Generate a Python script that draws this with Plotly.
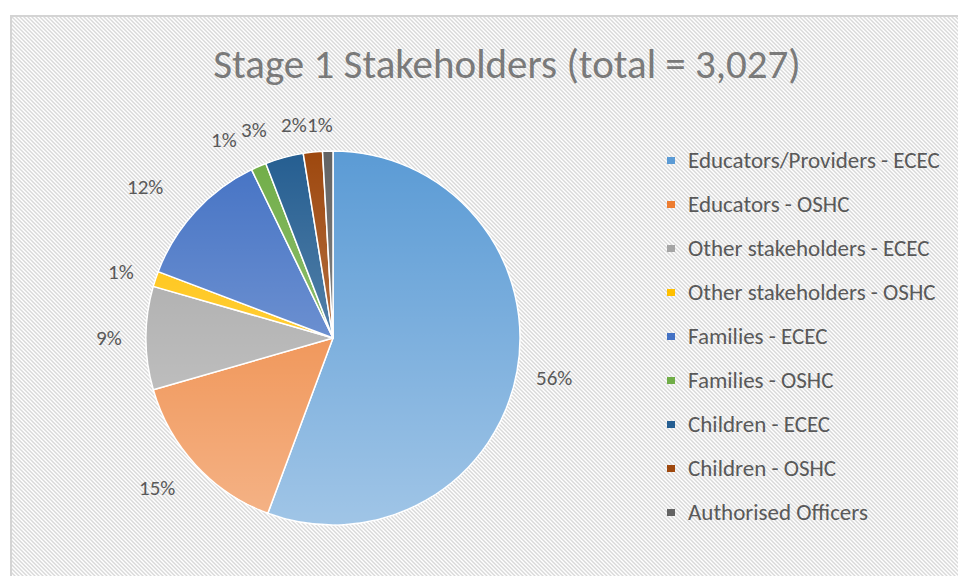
import math
import base64
import plotly.graph_objects as go

# ---------------- data ----------------
categories = [
    "Educators/Providers - ECEC",
    "Educators - OSHC",
    "Other stakeholders - ECEC",
    "Other stakeholders - OSHC",
    "Families - ECEC",
    "Families - OSHC",
    "Children - ECEC",
    "Children - OSHC",
    "Authorised Officers",
]
values = [1685, 450, 270, 40, 365, 40, 100, 50, 27]
colors = ["#5B9BD5", "#ED7D31", "#A5A5A5", "#FFC000", "#4472C4",
          "#70AD47", "#255E91", "#9E480E", "#636363"]
title_text = "Stage 1 Stakeholders (total = 3,027)"

# ---------------- layout constants ----------------
W, H = 958, 576
CX, CY, R = 333, 338, 187          # pie centre / radius in px
FONT = "Carlito, 'Liberation Sans Narrow', 'Open Sans', sans-serif"
TXT = "#595959"
# small per-label nudges (px) mimicking Excel best-fit placement
label_nudge = [(0, 0), (-11, -3), (0, 0), (1, 5), (-23, 1),
               (-20, 8), (-21, 9), (-15, 10), (-7, 11)]


def px(x):
    return x / W


def py(y):
    return 1 - y / H


fig = go.Figure()
fig.add_trace(go.Pie(
    labels=categories,
    values=values,
    sort=False,
    direction="clockwise",
    rotation=0,
    marker=dict(colors=colors, line=dict(color="white", width=1.5)),
    textinfo="none",
    hoverinfo="label+value+percent",
    showlegend=False,
    domain=dict(x=[px(CX - R), px(CX + R)], y=[py(CY + R), py(CY - R)]),
))

annotations = []
shapes = []

# percentage labels
total = sum(values)
cum = 0.0
for i, v in enumerate(values):
    frac = v / total
    mid = (cum + frac / 2) * 2 * math.pi
    cum += frac
    d = 1.2 * R
    lx = CX + d * math.sin(mid) + label_nudge[i][0]
    ly = CY - d * math.cos(mid) + label_nudge[i][1]
    annotations.append(dict(
        x=px(lx), y=py(ly), xref="paper", yref="paper",
        text=f"{round(frac * 100)}%", showarrow=False,
        xanchor="center", yanchor="middle",
        font=dict(family=FONT, size=21, color=TXT),
    ))

# manual legend
LEG_X, LEG_Y0, LEG_DY = 686, 160, 44
for i, (cat, col) in enumerate(zip(categories, colors)):
    yy = LEG_Y0 + i * LEG_DY
    shapes.append(dict(
        type="rect", xref="paper", yref="paper",
        x0=px(LEG_X - 19), x1=px(LEG_X - 11), y0=py(yy + 4), y1=py(yy - 3),
        fillcolor=col, line=dict(width=0),
    ))
    annotations.append(dict(
        x=px(LEG_X), y=py(yy), xref="paper", yref="paper",
        text=cat, showarrow=False, xanchor="left", yanchor="middle",
        font=dict(family=FONT, size=23, color=TXT),
    ))

# hatched chart-area background
BX, BY = 10, 15
bw, bh = W - BX, H - BY
bg_svg = f'''<svg xmlns="http://www.w3.org/2000/svg" width="{bw}" height="{bh}">
<defs><pattern id="h" width="4" height="4" patternUnits="userSpaceOnUse">
<rect width="4" height="4" fill="#ffffff"/>
<path d="M-1,-1 L5,5 M-1,3 L1,5 M3,-1 L5,1" stroke="#D9D9D9" stroke-width="1.4"/>
</pattern></defs>
<rect x="0" y="0" width="{bw}" height="{bh}" fill="url(#h)"/>
<path d="M1,{bh} L1,1 L{bw},1" fill="none" stroke="#D4D4D4" stroke-width="2"/>
</svg>'''
bg_src = "data:image/svg+xml;base64," + base64.b64encode(bg_svg.encode()).decode()

# gradient overlay (lighter towards the bottom, like Excel's gradient fill)
D = 2 * R
gr_svg = f'''<svg xmlns="http://www.w3.org/2000/svg" width="{D}" height="{D}">
<defs><linearGradient id="g" x1="0" y1="0" x2="0" y2="1">
<stop offset="0" stop-color="#ffffff" stop-opacity="0"/>
<stop offset="1" stop-color="#ffffff" stop-opacity="0.42"/>
</linearGradient></defs>
<circle cx="{R}" cy="{R}" r="{R - 0.5}" fill="url(#g)"/>
</svg>'''
gr_src = "data:image/svg+xml;base64," + base64.b64encode(gr_svg.encode()).decode()

images = [
    dict(source=bg_src, xref="paper", yref="paper", x=px(BX), y=py(BY),
         sizex=bw / W, sizey=bh / H, xanchor="left", yanchor="top",
         sizing="stretch", layer="below"),
    dict(source=gr_src, xref="paper", yref="paper", x=px(CX - R), y=py(CY - R),
         sizex=D / W, sizey=D / H, xanchor="left", yanchor="top",
         sizing="stretch", layer="above"),
]

fig.update_layout(
    width=W, height=H,
    margin=dict(l=0, r=0, t=0, b=0),
    paper_bgcolor="white",
    plot_bgcolor="rgba(0,0,0,0)",
    title=dict(text=title_text, x=507 / W, xanchor="center",
               y=py(64), yanchor="middle",
               font=dict(family=FONT, size=41, color="#7A7A7A")),
    annotations=annotations,
    shapes=shapes,
    images=images,
)

fig.write_html(
    "out.html",
    config={"displayModeBar": False},
    post_script="document.body.style.margin='0';document.body.style.overflow='hidden';",
)
